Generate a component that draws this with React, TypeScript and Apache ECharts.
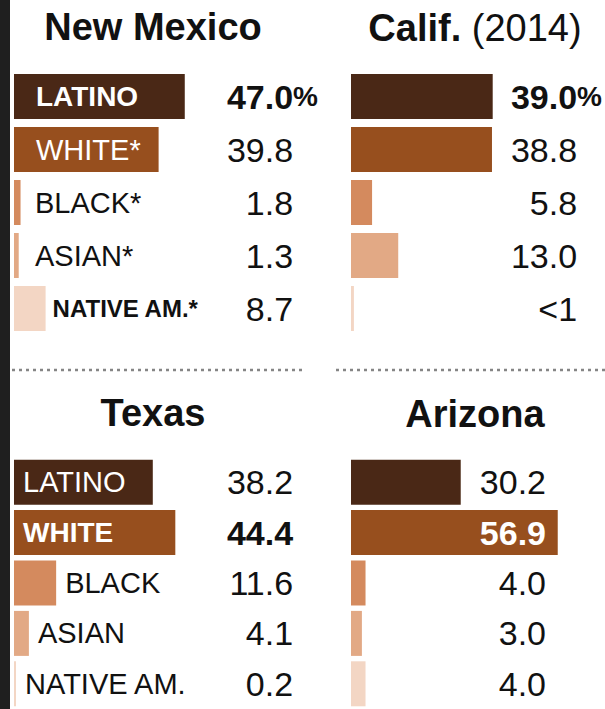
import React, { useEffect, useRef } from 'react';
import * as echarts from 'echarts';

const categoriesNM = ['LATINO', 'WHITE*', 'BLACK*', 'ASIAN*', 'NATIVE AM.*'];
const categoriesTX = ['LATINO', 'WHITE', 'BLACK', 'ASIAN', 'NATIVE AM.'];
const valuesNM = [47.0, 39.8, 1.8, 1.3, 8.7];
const labelsNM = ['47.0%', '39.8', '1.8', '1.3', '8.7'];
const valuesCA = [39.0, 38.8, 5.8, 13.0, 0.8];
const labelsCA = ['39.0%', '38.8', '5.8', '13.0', '<1'];
const valuesTX = [38.2, 44.4, 11.6, 4.1, 0.2];
const labelsTX = ['38.2', '44.4', '11.6', '4.1', '0.2'];
const valuesAZ = [30.2, 56.9, 4.0, 3.0, 4.0];
const labelsAZ = ['30.2', '56.9', '4.0', '3.0', '4.0'];

const FONT = '"Liberation Sans", Arial, Helvetica, sans-serif';
const COLORS = ['#4a2816', '#974f1e', '#d48a5e', '#e2a985', '#f3d6c4'];
const GRID_W = 218;
const X_MAX = 60;
const SCALE = GRID_W / X_MAX;
const PCT_SIZE = 28;
const PCT_W = Math.round(PCT_SIZE * 0.889);

type CatStyle = { size: number; bold: boolean };

const panels = [
  {
    title: '{b|New Mexico}', titleX: 153, titleY: 27,
    cats: categoriesNM, values: valuesNM, labels: labelsNM,
    left: 14, top: 70, valueRight: 293, pct: true, boldVal: 0, whiteVal: -1,
    catStyles: [
      { size: 28, bold: true }, { size: 29, bold: false }, { size: 29, bold: false },
      { size: 29, bold: false }, { size: 24, bold: true },
    ] as CatStyle[],
    insideOff: 22, outside: (px: number) => Math.max(7, 21 - px),
  },
  {
    title: '{b|Calif. }{r|(2014)}', titleX: 475, titleY: 28,
    cats: null as string[] | null, values: valuesCA, labels: labelsCA,
    left: 351, top: 70, valueRight: 577, pct: true, boldVal: 0, whiteVal: -1,
    catStyles: [] as CatStyle[], insideOff: 0, outside: (px: number) => 0,
  },
  {
    title: '{b|Texas}', titleX: 153, titleY: 413,
    cats: categoriesTX, values: valuesTX, labels: labelsTX,
    left: 14, top: 457, valueRight: 293, pct: true, boldVal: 1, whiteVal: -1,
    catStyles: [
      { size: 29, bold: false }, { size: 28, bold: true }, { size: 29, bold: false },
      { size: 29, bold: false }, { size: 29, bold: false },
    ] as CatStyle[],
    insideOff: 9, outside: (px: number) => 9,
  },
  {
    title: '{b|Arizona}', titleX: 475, titleY: 414,
    cats: null as string[] | null, values: valuesAZ, labels: labelsAZ,
    left: 351, top: 457, valueRight: 546, pct: false, boldVal: 1, whiteVal: 1,
    catStyles: [] as CatStyle[], insideOff: 0, outside: (px: number) => 0,
  },
];

function buildOption() {
  const grid: any[] = [];
  const xAxis: any[] = [];
  const yAxis: any[] = [];
  const series: any[] = [];
  const graphic: any[] = [];

  graphic.push({ type: 'rect', shape: { x: 0, y: 0, width: 10, height: 709 }, style: { fill: '#1f1f1f' } });
  graphic.push({ type: 'line', shape: { x1: 12, y1: 370, x2: 306, y2: 370 }, style: { stroke: '#858585', lineWidth: 2.5, lineDash: [3, 4] } });
  graphic.push({ type: 'line', shape: { x1: 336, y1: 370, x2: 605, y2: 370 }, style: { stroke: '#858585', lineWidth: 2.5, lineDash: [3, 4] } });

  panels.forEach((p, i) => {
    graphic.push({
      type: 'text', x: p.titleX, y: p.titleY,
      style: {
        text: p.title, textAlign: 'center', textVerticalAlign: 'middle',
        rich: {
          b: { fontFamily: FONT, fontSize: 38, fontWeight: 'bold', fill: '#111', color: '#111' },
          r: { fontFamily: FONT, fontSize: 38, fontWeight: 'normal', fill: '#111', color: '#111' },
        },
      },
    });

    grid.push({ left: p.left, top: p.top, width: GRID_W, height: 265, containLabel: false });
    xAxis.push({ type: 'value', gridIndex: i, min: 0, max: X_MAX, show: false });
    const idx = p.values.map((_, j) => String(j));
    yAxis.push({ type: 'category', gridIndex: i, data: idx, inverse: true, show: false });
    const anchor = p.pct ? p.valueRight + PCT_W : p.valueRight;
    const margin = anchor - (p.left + GRID_W);
    const vStyle = (bold: boolean, white: boolean) => ({
      fontFamily: FONT, fontSize: 34, fontWeight: bold ? 'bold' : 'normal', color: white ? '#ffffff' : '#111111',
    });
    yAxis.push({
      type: 'category', gridIndex: i, data: idx, inverse: true, position: 'right', z: 10,
      axisLine: { show: false }, axisTick: { show: false }, splitLine: { show: false },
      axisLabel: {
        show: true, interval: 0, margin, align: 'right',
        formatter: (_v: string, j: number) => {
          const lab = p.labels[j];
          const bold = j === p.boldVal;
          const white = j === p.whiteVal;
          const s = white ? 'vw' : bold ? 'vb' : 'v';
          if (!p.pct) return `{${s}|${lab}}`;
          const hasPct = lab.endsWith('%');
          const num = hasPct ? lab.slice(0, -1) : lab;
          return `{${s}|${num}}{${hasPct ? (bold ? 'pb' : 'p') : 'h'}|%}`;
        },
        rich: {
          v: vStyle(false, false),
          vb: vStyle(true, false),
          vw: vStyle(true, true),
          p: { fontFamily: FONT, fontSize: PCT_SIZE, fontWeight: 'normal', color: '#111' },
          pb: { fontFamily: FONT, fontSize: PCT_SIZE, fontWeight: 'bold', color: '#111' },
          h: { fontFamily: FONT, fontSize: PCT_SIZE, fontWeight: 'normal', color: 'rgba(0,0,0,0)' },
        },
      },
    });

    series.push({
      type: 'bar', xAxisIndex: i, yAxisIndex: 2 * i, barWidth: 45, barMinHeight: 2, silent: true,
      data: p.values.map((v, j) => {
        const item: any = { value: v, itemStyle: { color: COLORS[j] } };
        if (p.cats) {
          const px = Math.max(v * SCALE, 2);
          const inside = px > 120;
          const cs = p.catStyles[j];
          item.label = {
            show: true, formatter: p.cats[j],
            position: inside ? 'insideLeft' : 'right',
            distance: inside ? p.insideOff : p.outside(px),
            color: inside ? '#ffffff' : '#111111',
            fontFamily: FONT, fontSize: cs.size, fontWeight: cs.bold ? 'bold' : 'normal',
          };
        } else {
          item.label = { show: false };
        }
        return item;
      }),
    });
  });

  return { animation: false, backgroundColor: '#ffffff', grid, xAxis, yAxis, series, graphic };
}

export default function App() {
  const ref = useRef<HTMLDivElement>(null);
  useEffect(() => {
    if (!ref.current) return;
    const chart = echarts.init(ref.current, undefined, { renderer: 'svg' });
    chart.setOption(buildOption() as any);
    return () => chart.dispose();
  }, []);
  return <div ref={ref} style={{ position: 'fixed', left: 0, top: 0, width: 605, height: 709 }} />;
}
